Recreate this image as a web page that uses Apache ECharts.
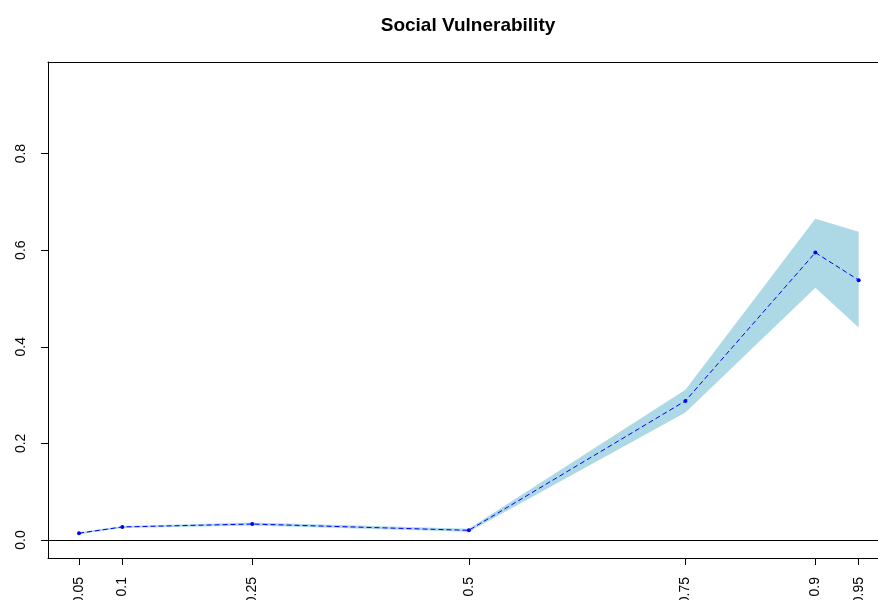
<!DOCTYPE html>
<html>
<head>
<meta charset="utf-8">
<title>Social Vulnerability</title>
<script src="https://cdn.jsdelivr.net/npm/echarts@6/dist/echarts.min.js"></script>
<style>
  html, body { margin: 0; padding: 0; background: #fff; }
  #chart { width: 878px; height: 600px; }
</style>
</head>
<body>
<div id="chart"></div>
<script>
// quantiles (x) and estimates with band
var probs = [0.05, 0.1, 0.25, 0.5, 0.75, 0.9, 0.95];
var estimate = [0.014, 0.027, 0.033, 0.020, 0.288, 0.595, 0.538];
var lower = [0.012, 0.025, 0.030, 0.017, 0.264, 0.522, 0.440];
var upper = [0.016, 0.029, 0.036, 0.023, 0.311, 0.665, 0.638];
var xTickLabels = ['0.05', '0.1', '0.25', '0.5', '0.75', '0.9', '0.95'];
var yTicks = [0, 0.2, 0.4, 0.6, 0.8];

var myChart = echarts.init(document.getElementById('chart'));

var bandData = probs.map(function (p, i) { return [p, lower[i], upper[i]]; });
var lineData = probs.map(function (p, i) { return [p, estimate[i]]; });

var option = {
    backgroundColor: '#ffffff',
    animation: false,
    title: {
        text: 'Social Vulnerability',
        left: 463,
        textAlign: 'center',
        top: 11,
        textStyle: { fontFamily: 'Liberation Sans', fontWeight: 'bold', fontSize: 19, color: '#000' }
    },
    grid: { left: 48, right: 0, top: 62, bottom: 42, outerBoundsMode: 'none', containLabel: false },
    xAxis: [{
        type: 'value',
        min: 0.0142,
        max: 0.9723,
        splitLine: { show: false },
        axisLine: { show: true, onZero: false, lineStyle: { color: '#000', width: 1 } },
        axisTick: { show: true, length: 7, customValues: probs, lineStyle: { color: '#000' } },
        axisLabel: {
            show: true,
            rotate: 90,
            margin: 19,
            customValues: probs,
            formatter: function (v) { return xTickLabels[probs.indexOf(v)]; },
            fontFamily: 'Liberation Sans',
            fontSize: 14,
            color: '#000'
        }
    }, {
        type: 'value',
        position: 'top',
        min: 0.0142,
        max: 0.9723,
        splitLine: { show: false },
        axisLine: { show: true, onZero: false, lineStyle: { color: '#000', width: 1 } },
        axisTick: { show: false },
        axisLabel: { show: false }
    }],
    yAxis: {
        type: 'value',
        min: -0.0373,
        max: 0.9896,
        splitLine: { show: false },
        axisLine: { show: true, onZero: false, lineStyle: { color: '#000', width: 1 } },
        axisTick: { show: true, length: 7, customValues: yTicks, lineStyle: { color: '#000' } },
        axisLabel: {
            show: true,
            rotate: 90,
            margin: 20,
            customValues: yTicks,
            formatter: function (v) { return v.toFixed(1); },
            fontFamily: 'Liberation Sans',
            fontSize: 14,
            color: '#000'
        }
    },
    series: [
        {
            name: 'band',
            type: 'custom',
            xAxisIndex: 0,
            data: bandData,
            encode: { x: 0, y: [1, 2] },
            z: 1,
            silent: true,
            renderItem: function (params, api) {
                if (params.dataIndex !== 0) return;
                var up = [], down = [];
                for (var i = 0; i < probs.length; i++) {
                    up.push(api.coord([probs[i], upper[i]]));
                    down.unshift(api.coord([probs[i], lower[i]]));
                }
                return {
                    type: 'polygon',
                    shape: { points: up.concat(down) },
                    style: { fill: '#ADD8E6', stroke: null }
                };
            }
        },
        {
            name: 'estimate',
            type: 'line',
            xAxisIndex: 0,
            data: lineData,
            z: 3,
            symbol: 'circle',
            symbolSize: 4,
            showSymbol: true,
            itemStyle: { color: '#0000FF' },
            lineStyle: { color: '#0000FF', width: 1, type: [5, 3] },
            markLine: {
                silent: true,
                symbol: 'none',
                label: { show: false },
                lineStyle: { color: '#000', width: 1, type: 'solid' },
                data: [{ yAxis: 0 }]
            }
        }
    ]
};

myChart.setOption(option);
</script>
</body>
</html>
